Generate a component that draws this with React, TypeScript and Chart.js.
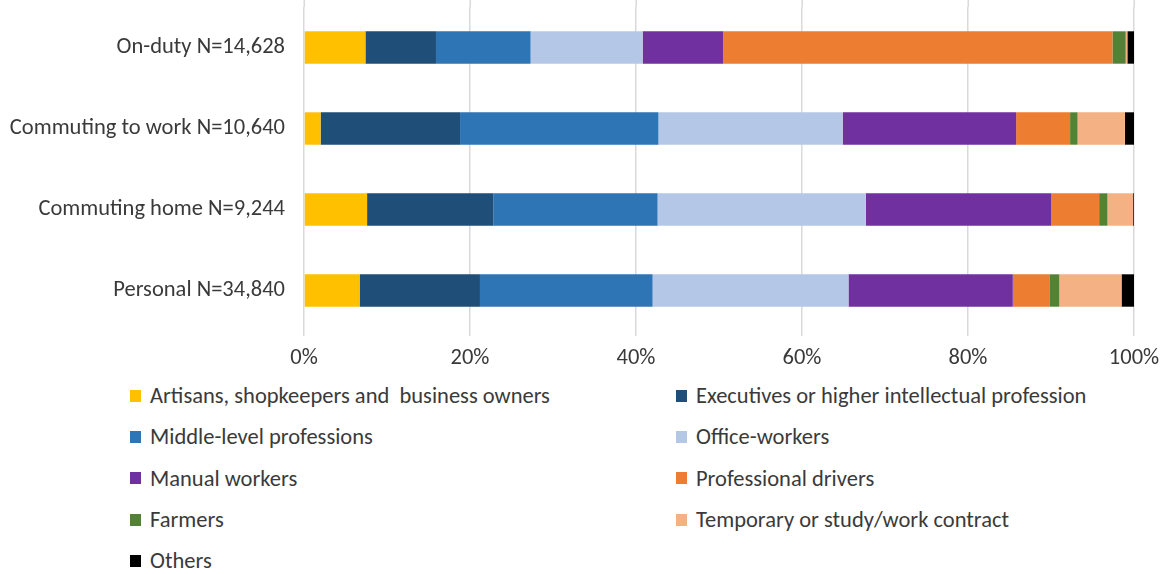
import React, { useEffect, useRef } from "react";
import { Chart, registerables } from "chart.js";

Chart.register(...registerables);

const categories = [
  "On-duty N=14,628",
  "Commuting to work N=10,640",
  "Commuting home N=9,244",
  "Personal N=34,840",
];

const seriesNames = [
  "Artisans, shopkeepers and  business owners",
  "Executives or higher intellectual profession",
  "Middle-level professions",
  "Office-workers",
  "Manual workers",
  "Professional drivers",
  "Farmers",
  "Temporary or study/work contract",
  "Others",
];

const artisans = [7.4, 2.0, 7.6, 6.7];
const executives = [8.5, 16.8, 15.2, 14.5];
const middleLevel = [11.4, 23.9, 19.8, 20.8];
const officeWorkers = [13.5, 22.2, 25.1, 23.6];
const manualWorkers = [9.7, 20.9, 22.3, 19.8];
const professionalDrivers = [46.9, 6.5, 5.8, 4.4];
const farmers = [1.6, 0.9, 1.0, 1.2];
const temporary = [0.2, 5.7, 3.1, 7.5];
const others = [0.8, 1.1, 0.1, 1.5];

const seriesValues = [
  artisans,
  executives,
  middleLevel,
  officeWorkers,
  manualWorkers,
  professionalDrivers,
  farmers,
  temporary,
  others,
];

const seriesColors = [
  "#FFC000",
  "#1F4E79",
  "#2E75B6",
  "#B4C7E7",
  "#7030A0",
  "#ED7D31",
  "#548235",
  "#F4B183",
  "#000000",
];

const xTickValues = [0, 20, 40, 60, 80, 100];

const FONT = "Carlito, Calibri, 'Liberation Sans Narrow', 'Liberation Sans', sans-serif";
const TEXT_COLOR = "#3a3a3a";
const FONT_SIZE = 22.5;
const GRID_COLOR = "#D9D9D9";

// extends the vertical grid lines up to the top edge of the canvas
const gridExtend = {
  id: "gridExtend",
  beforeDatasetsDraw(chart: any) {
    const { ctx, chartArea, scales } = chart;
    const x = scales.x;
    ctx.save();
    ctx.strokeStyle = GRID_COLOR;
    ctx.lineWidth = 1.5;
    xTickValues.forEach((v) => {
      const px = Math.round(x.getPixelForValue(v)) + 0.25;
      ctx.beginPath();
      ctx.moveTo(px, 0);
      ctx.lineTo(px, chartArea.top);
      ctx.stroke();
    });
    ctx.restore();
  },
};

export default function App() {
  const canvasRef = useRef<HTMLCanvasElement | null>(null);

  useEffect(() => {
    if (!canvasRef.current) return;
    const chart = new Chart(canvasRef.current, {
      type: "bar",
      data: {
        labels: categories,
        datasets: seriesNames.map((name, i) => ({
          label: name,
          data: seriesValues[i],
          backgroundColor: seriesColors[i],
          borderWidth: 0,
          categoryPercentage: 1,
          barPercentage: 0.4,
        })),
      },
      options: {
        indexAxis: "y",
        animation: false,
        responsive: false,
        maintainAspectRatio: false,
        layout: { padding: { top: 7, right: 36, left: 0, bottom: 0 } },
        plugins: {
          legend: { display: false },
          tooltip: { enabled: false },
        },
        scales: {
          x: {
            stacked: true,
            min: 0,
            max: 100,
            afterBuildTicks: (scale: any) => {
              scale.ticks = xTickValues.map((v) => ({ value: v }));
            },
            afterFit: (scale: any) => {
              scale.height = 43;
            },
            ticks: {
              callback: (v: any) => v + "%",
              color: TEXT_COLOR,
              font: { family: FONT, size: FONT_SIZE },
              padding: 9,
              maxRotation: 0,
            },
            grid: {
              color: GRID_COLOR,
              lineWidth: 1.5,
              drawTicks: true,
              tickLength: 5,
            },
            border: { display: false },
          },
          y: {
            stacked: true,
            afterFit: (scale: any) => {
              scale.width = 304;
              scale.paddingTop = 0;
              scale.paddingBottom = 0;
            },
            ticks: {
              color: TEXT_COLOR,
              font: { family: FONT, size: FONT_SIZE },
              padding: 19,
            },
            grid: { display: false, drawTicks: false },
            border: { display: false },
          },
        },
      },
      plugins: [gridExtend],
    });
    return () => chart.destroy();
  }, []);

  return (
    <div
      style={{
        position: "fixed",
        left: 0,
        top: 0,
        width: 1170,
        height: 574,
        background: "#ffffff",
        fontFamily: FONT,
        overflow: "hidden",
      }}
    >
      <canvas ref={canvasRef} width={1170} height={374} style={{ display: "block" }} />
      <div
        style={{
          position: "absolute",
          left: 130,
          top: 375,
          display: "grid",
          gridTemplateColumns: "546px 480px",
          gridAutoRows: "41.3px",
          color: TEXT_COLOR,
          fontSize: FONT_SIZE,
        }}
      >
        {seriesNames.map((name, i) => (
          <div key={name} style={{ display: "flex", alignItems: "center", whiteSpace: "pre" }}>
            <span
              style={{
                display: "inline-block",
                width: 11,
                height: 12,
                background: seriesColors[i],
                marginRight: 9,
                flex: "none",
              }}
            />
            <span>{name}</span>
          </div>
        ))}
      </div>
    </div>
  );
}
